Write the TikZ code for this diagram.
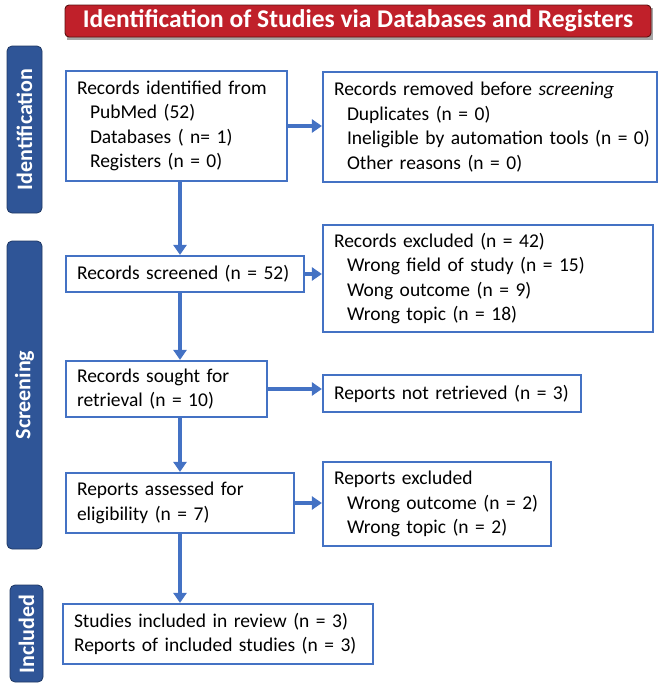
\documentclass[tikz,border=0pt]{standalone}
\usepackage{fontspec}
\setmainfont{Carlito}
\usetikzlibrary{arrows.meta}
\definecolor{boxblue}{HTML}{4472C4}
\definecolor{barblue}{HTML}{2F5597}
\definecolor{bardark}{HTML}{1F3864}
\definecolor{titlered}{HTML}{C0202A}
\definecolor{titledark}{HTML}{5A1010}
\tikzset{
  flowbox/.style={draw=boxblue, line width=2.2pt, fill=white, align=left,
    inner xsep=11pt, inner ysep=0pt, font=\fontsize{19.5}{24.5}\selectfont},
  flowarrow/.style={draw=boxblue, line width=3.6pt,
    -{Triangle[length=10pt,width=13pt]}},
  sidebar/.style={fill=barblue, draw=bardark, line width=0.8pt, rounded corners=5pt},
  sidelabel/.style={text=white, rotate=90, font=\bfseries\fontsize{22}{26}\selectfont}
}
\newcommand{\ind}{\hspace*{13pt}}
\begin{document}
\begin{tikzpicture}[x=1pt,y=-1pt]
\useasboundingbox (0,0) rectangle (659,683);
% title
\fill[black!35] (67,8) rectangle (653,40);
\node[fill=titlered, draw=titledark, line width=0.9pt, rounded corners=4pt,
  minimum width=586pt, minimum height=32pt, inner sep=0pt, text=white,
  font=\bfseries\fontsize{25.5}{28}\selectfont] (title) at (358,21)
  {Identification of Studies via Databases and Registers};
% side bars
\draw[sidebar] (7,46) rectangle (42,213);
\node[sidelabel] (lid) at (24.5,129.5) {Identification};
\draw[sidebar] (7,241) rectangle (42,549);
\node[sidelabel] (lsc) at (24.5,395) {Screening};
\draw[sidebar] (10,585) rectangle (43,682);
\node[sidelabel] (lin) at (26.5,634) {Included};
% boxes
\node[flowbox, text width=199pt, minimum height=110pt] (b1) at (176.5,126)
  {Records identified from\\ \ind PubMed (52)\\ \ind Databases ( n= 1)\\ \ind Registers (n = 0)};
\node[flowbox, text width=312pt, minimum height=110pt] (b2) at (490,127)
  {Records removed before \textit{screening}\\ \ind Duplicates (n = 0)\\ \ind\mbox{Ineligible by automation tools (n = 0)}\\ \ind Other reasons (n = 0)};
\node[flowbox, text width=216pt, minimum height=36pt] (b3) at (185,274)
  {Records screened (n = 52)};
\node[flowbox, text width=308pt, minimum height=107pt] (b4) at (488,278.5)
  {Records excluded (n = 42)\\ \ind Wrong field of study (n = 15)\\ \ind Wong outcome (n = 9)\\ \ind Wrong topic (n = 18)};
\node[flowbox, text width=179pt, minimum height=56pt] (b5) at (166.5,389)
  {Records sought for\\ retrieval (n = 10)};
\node[flowbox, text width=236pt, minimum height=37pt] (b6) at (452,393.5)
  {Reports not retrieved (n = 3)};
\node[flowbox, text width=206pt, minimum height=60pt] (b7) at (180,503)
  {Reports assessed for\\ eligibility (n = 7)};
\node[flowbox, text width=206pt, minimum height=84pt] (b8) at (437,504)
  {Reports excluded\\ \ind Wrong outcome (n = 2)\\ \ind Wrong topic (n = 2)};
\node[flowbox, text width=288pt, minimum height=60pt] (b9) at (218,634)
  {Studies included in review (n = 3)\\ Reports of included studies (n = 3)};
% connectors
\coordinate (vx) at (180,0);
\draw[flowarrow] (b1.south -| vx) -- (b3.north -| vx);
\draw[flowarrow] (b3.south -| vx) -- (b5.north -| vx);
\draw[flowarrow] (b5.south -| vx) -- (b7.north -| vx);
\draw[flowarrow] (b7.south -| vx) -- (b9.north -| vx);
\draw[flowarrow] (b1.east) -- (b2.west |- b1.east);
\draw[flowarrow] (b3.east) -- (b4.west |- b3.east);
\draw[flowarrow] (b5.east) -- (b6.west |- b5.east);
\draw[flowarrow] (b7.east) -- (b8.west |- b7.east);
\end{tikzpicture}
\end{document}
